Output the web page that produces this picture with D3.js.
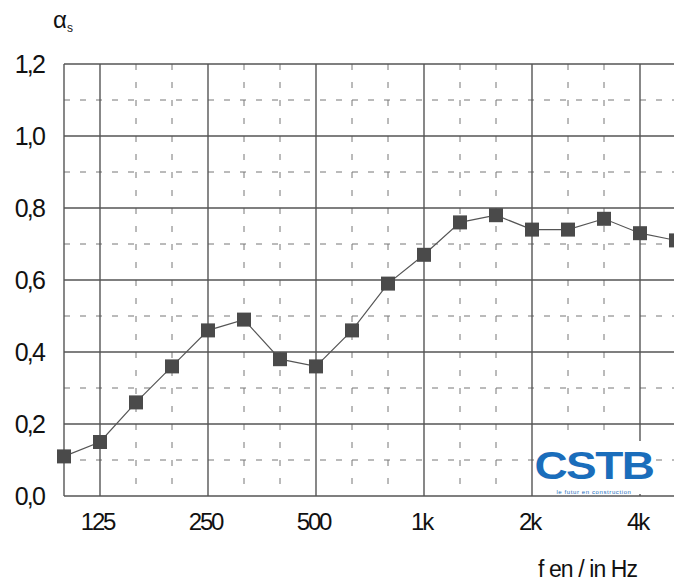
<!DOCTYPE html>
<html>
<head>
<meta charset="utf-8">
<script src="https://cdn.jsdelivr.net/npm/d3@7"></script>
<style>
  body { margin: 0; background: #fff; }
  svg { display: block; font-family: "Liberation Sans", Arial, sans-serif; }
</style>
</head>
<body>
<div id="chart"></div>
<script>
// third-octave bands and measured absorption
let bands = ["100", "125", "160", "200", "250", "315", "400", "500", "630", "800",
             "1000", "1250", "1600", "2000", "2500", "3150", "4000", "5000"];
let alpha = [0.11, 0.15, 0.26, 0.36, 0.46, 0.49, 0.38, 0.36, 0.46, 0.59,
             0.67, 0.76, 0.78, 0.74, 0.74, 0.77, 0.73, 0.71];
let octaveBands = ["125", "250", "500", "1000", "2000", "4000"];
let octaveLabels = ["125", "250", "500", "1k", "2k", "4k"];
let yTicks = [0, 0.2, 0.4, 0.6, 0.8, 1.0, 1.2];
let yMinor = [0.1, 0.3, 0.5, 0.7, 0.9, 1.1];

let width = 674, height = 584;
let svg = d3.select("#chart").append("svg")
  .attr("width", width).attr("height", height);

let x = d3.scalePoint().domain(bands).range([64, 676]);
let y = d3.scaleLinear().domain([0, 1.2]).range([496, 64]);

let grid = svg.append("g");

// dashed minor grid
grid.selectAll(".hmin").data(yMinor).enter().append("line")
  .attr("x1", x("100")).attr("x2", width)
  .attr("y1", d => y(d)).attr("y2", d => y(d))
  .attr("stroke", "#777").attr("stroke-width", 1)
  .attr("stroke-dasharray", "6,10");

grid.selectAll(".vmin").data(bands.filter(b => octaveBands.indexOf(b) < 0 && b !== "100")).enter().append("line")
  .attr("x1", d => x(d)).attr("x2", d => x(d))
  .attr("y1", y(1.2)).attr("y2", y(0))
  .attr("stroke", "#777").attr("stroke-width", 1)
  .attr("stroke-dasharray", "6,12");

// solid major grid
grid.selectAll(".hmaj").data(yTicks).enter().append("line")
  .attr("x1", x("100")).attr("x2", width)
  .attr("y1", d => y(d)).attr("y2", d => y(d))
  .attr("stroke", "#555").attr("stroke-width", 1.4);

grid.selectAll(".vmaj").data(["100"].concat(octaveBands)).enter().append("line")
  .attr("x1", d => x(d)).attr("x2", d => x(d))
  .attr("y1", y(1.2)).attr("y2", y(0))
  .attr("stroke", "#555").attr("stroke-width", 1.4);

// y axis labels
let yAxis = d3.axisLeft(y).tickValues(yTicks).tickSize(0).tickPadding(0)
  .tickFormat(d => d3.format(".1f")(d).replace(".", ","));
svg.append("g").attr("transform", "translate(44,0)").call(yAxis)
  .call(g => g.select(".domain").remove())
  .selectAll("text")
  .attr("font-size", 25).attr("fill", "#111")
  .attr("font-family", "Liberation Sans, Arial, sans-serif")
  .attr("letter-spacing", -1.8);

// x axis labels
let xAxis = d3.axisBottom(x).tickValues(octaveBands).tickSize(0).tickPadding(0)
  .tickFormat((d, i) => octaveLabels[i]);
svg.append("g").attr("transform", "translate(-3,513)").call(xAxis)
  .call(g => g.select(".domain").remove())
  .selectAll("text")
  .attr("font-size", 24).attr("fill", "#111")
  .attr("font-family", "Liberation Sans, Arial, sans-serif")
  .attr("letter-spacing", -2.2);

// data line and markers
let line = d3.line().x((d, i) => x(bands[i])).y(d => y(d));
svg.append("path").datum(alpha)
  .attr("d", line).attr("fill", "none")
  .attr("stroke", "#555").attr("stroke-width", 1.2);

svg.selectAll(".pt").data(alpha).enter().append("rect")
  .attr("x", (d, i) => x(bands[i]) - 7).attr("y", d => y(d) - 7)
  .attr("width", 14).attr("height", 14)
  .attr("fill", "#4a4a4a");

// axis titles
let t = svg.append("text").attr("x", 53).attr("y", 28)
  .attr("font-size", 24).attr("fill", "#111");
t.append("tspan").text("α");
t.append("tspan").attr("font-size", 12).attr("dy", 4).text("s");

svg.append("text").attr("x", 538).attr("y", 577)
  .attr("font-size", 23).attr("fill", "#111")
  .attr("letter-spacing", -0.9)
  .text("f en / in Hz");

// CSTB logo
let logo = svg.append("g");
logo.append("rect").attr("x", 534).attr("y", 441).attr("width", 120).attr("height", 53)
  .attr("fill", "#fff");
logo.append("text").attr("x", 594).attr("y", 479)
  .attr("text-anchor", "middle")
  .attr("font-size", 46).attr("font-weight", "bold")
  .attr("fill", "#1a6dbb").attr("letter-spacing", -1.5)
  .attr("transform", "translate(594,479) scale(1,0.85) translate(-594,-479)")
  .text("CSTB");
logo.append("text").attr("x", 594).attr("y", 494)
  .attr("text-anchor", "middle")
  .attr("font-size", 6).attr("fill", "#1a6dbb")
  .attr("letter-spacing", 0.6)
  .text("le futur en construction");
</script>
</body>
</html>
